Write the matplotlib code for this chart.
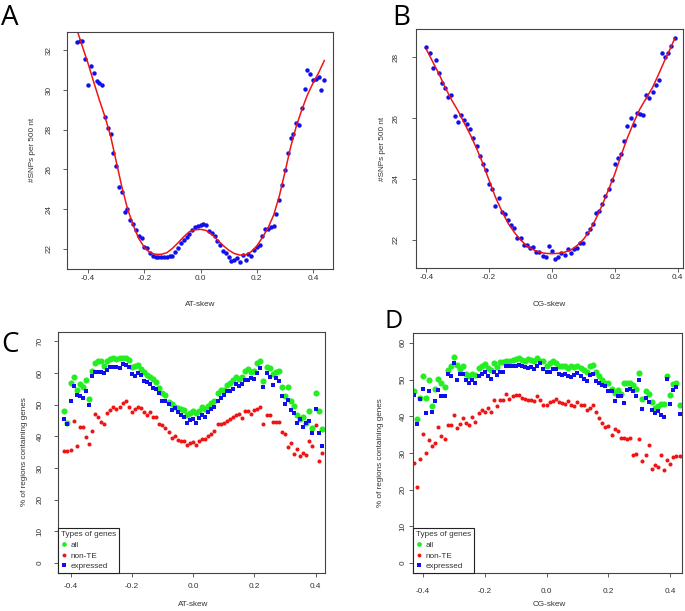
import numpy as np
import matplotlib
matplotlib.use('Agg')
import matplotlib.pyplot as plt
from matplotlib.lines import Line2D

plt.rcParams['font.family'] = ['Liberation Sans', 'DejaVu Sans']

# ---------------- data ----------------
# Panel A : SNP density vs AT-skew
a_x = np.round(np.arange(-0.44, 0.4451, 0.01), 2)
a_snps = [32.44, 32.49, 32.49, 31.55, 30.25, 31.2, 30.84, 30.47, 30.33, 30.27,
          28.65, 28.08, 27.78, 26.81, 26.17, 25.11, 24.84, 23.85, 24.02, 23.46,
          23.23, 22.94, 22.64, 22.52, 22.1, 22.02, 21.8, 21.63, 21.58, 21.58,
          21.58, 21.58, 21.58, 21.61, 21.63, 21.85, 22.02, 22.27, 22.44, 22.6,
          22.75, 22.95, 23.1, 23.15, 23.22, 23.25, 23.2, 22.9, 22.78, 22.64,
          22.4, 22.19, 21.9, 21.77, 21.6, 21.4, 21.43, 21.55, 21.35, 21.7,
          21.43, 21.73, 21.63, 21.93, 22.1, 22.19, 22.64, 22.98, 22.98, 23.08,
          23.15, 23.75, 24.45, 25.2, 25.97, 26.84, 27.58, 27.78, 28.32, 28.25,
          29.08, 30.06, 31.02, 30.79, 30.5, 30.57, 30.65, 29.98, 30.52]
a_fit_x = np.round(np.arange(-0.44, 0.4451, 0.02), 2)
a_fit = [33.05, 32.18, 31.33, 30.4, 29.5, 28.65, 27.68, 26.4, 25.12, 24.03,
         23.2, 22.52, 22.07, 21.8, 21.72, 21.72, 21.8, 22.02, 22.3, 22.6,
         22.86, 22.95, 22.98, 22.92, 22.72, 22.44, 22.17, 21.93, 21.76, 21.68,
         21.7, 21.85, 22.14, 22.57, 23.05, 23.7, 24.65, 25.85, 27.1, 28.15,
         29.0, 29.75, 30.35, 30.87, 31.48]

# Panel B : SNP density vs CG-skew
b_x = np.round(np.arange(-0.40, 0.3951, 0.01), 2)
b_snps = [28.34, 28.13, 27.63, 27.91, 27.48, 27.16, 26.98, 26.69, 26.77, 26.05,
          25.88, 26.1, 25.94, 25.79, 25.63, 25.34, 25.08, 24.74, 24.5, 24.28,
          23.82, 23.68, 23.13, 23.36, 22.92, 22.86, 22.64, 22.49, 22.38, 22.05,
          22.08, 21.82, 21.82, 21.75, 21.78, 21.61, 21.61, 21.49, 21.43, 21.8,
          21.64, 21.36, 21.44, 21.57, 21.51, 21.71, 21.56, 21.71, 21.72, 21.89,
          21.91, 22.24, 22.37, 22.53, 22.87, 22.95, 23.19, 23.43, 23.67, 23.98,
          24.5, 24.69, 24.83, 25.25, 25.75, 26.01, 25.76, 26.16, 26.14, 26.1,
          26.77, 26.67, 26.85, 27.09, 27.26, 28.13, 28.0, 28.12, 28.36, 28.61]
b_fit_x = [-0.40, -0.38, -0.36, -0.34, -0.32, -0.30, -0.28, -0.26, -0.24, -0.22,
           -0.20, -0.18, -0.16, -0.14, -0.12, -0.10, -0.08, -0.06, -0.04, -0.02,
           0.00, 0.02, 0.04, 0.06, 0.08, 0.10, 0.12, 0.14, 0.16, 0.18,
           0.20, 0.22, 0.24, 0.26, 0.28, 0.30, 0.32, 0.34, 0.36, 0.38, 0.39]
b_fit = [28.25, 27.85, 27.45, 27.0, 26.6, 26.25, 25.85, 25.45, 25.0, 24.5,
         23.95, 23.4, 22.95, 22.55, 22.25, 22.0, 21.8, 21.68, 21.6, 21.56,
         21.55, 21.56, 21.6, 21.67, 21.82, 22.02, 22.3, 22.7, 23.15, 23.65,
         24.17, 24.78, 25.35, 25.85, 26.3, 26.65, 27.0, 27.45, 27.92, 28.35, 28.6]

# Panel C : % of regions containing genes vs AT-skew
c_x = np.round(np.arange(-0.42, 0.4201, 0.01), 2)
c_all = [48.1, 44.2, 56.8, 58.7, 54.5, 56.6, 55.7, 57.9, 51.7, 60.8,
         63.1, 63.7, 63.9, 62.3, 63.7, 64.4, 64.6, 64.4, 64.6, 64.8,
         64.8, 64.2, 61.9, 62.3, 62.7, 61.2, 60.2, 59.4, 58.7, 58.1,
         57.3, 55.2, 53.6, 53.1, 51.0, 50.3, 49.4, 48.9, 48.6, 48.4,
         46.8, 47.3,
         47.9, 47.3, 48.1, 49.2, 48.6, 49.6, 50.5, 51.3, 53.8, 54.5,
         54.7, 56.3, 56.8, 57.9, 58.9, 58.1, 58.9, 60.8, 61.2, 60.3,
         60.5, 63.1, 63.9, 57.6, 61.9, 61.5, 59.8, 60.4, 60.8, 55.5,
         52.6, 55.5, 51.3, 49.6, 46.8, 45.4, 46.0, 44.3, 48.1, 42.5,
         53.6, 48.1, 42.3]
c_nonte = [35.4, 35.4, 35.6, 44.7, 37.0, 43.1, 43.0, 39.9, 37.5, 41.8,
           47.1, 46.0, 44.6, 44.0, 47.3, 48.4, 49.4, 48.7, 49.2, 50.5,
           51.1, 49.4, 47.7, 48.6, 49.4, 49.0, 47.7, 46.9, 47.8, 46.2,
           46.1, 43.9, 43.7, 42.5, 41.5, 39.4, 40.1, 38.9, 38.5, 38.5,
           37.3, 37.8,
           38.2, 37.3, 38.5, 39.1, 39.1, 40.1, 40.8, 41.8, 44.0, 44.0,
           44.1, 45.0, 45.6, 46.0, 46.7, 47.1, 45.9, 47.9, 47.9, 47.1,
           48.4, 48.8, 49.3, 43.9, 46.6, 46.9, 44.6, 44.6, 44.5, 41.5,
           40.9, 36.6, 37.8, 34.4, 36.0, 33.9, 34.7, 34.2, 38.6, 36.9,
           43.5, 32.3, 34.9]
c_expr = [45.5, 44.0, 51.1, 56.0, 53.2, 52.6, 52.2, 54.3, 49.8, 59.1,
          60.2, 60.4, 60.4, 60.0, 61.0, 61.9, 61.8, 61.8, 61.6, 62.8,
          62.6, 61.9, 59.8, 59.1, 60.0, 59.3, 57.6, 57.2, 56.5, 55.2,
          54.9, 53.6, 51.3, 51.1, 50.3, 48.4, 48.9, 47.6, 46.6, 46.2,
          44.1, 45.2,
          45.4, 44.3, 45.7, 46.9, 46.0, 47.6, 48.6, 49.4, 51.3, 52.2,
          53.0, 54.2, 54.2, 55.1, 56.5, 56.0, 56.5, 57.9, 57.9, 58.4,
          58.1, 60.0, 61.6, 55.5, 60.0, 58.9, 56.3, 58.5, 57.6, 52.8,
          50.3, 51.5, 48.4, 47.3, 44.3, 45.4, 42.9, 44.1, 45.0, 41.0,
          48.8, 41.0, 37.0]

# Panel D : % of regions containing genes vs CG-skew
d_x = np.round(np.arange(-0.43, 0.4301, 0.01), 2)
d_all = [46.8, 39.2, 45.0, 50.9, 45.0, 50.0, 42.9, 47.4, 50.1, 49.2,
         48.1, 52.7, 53.6, 56.1, 54.1, 52.9, 53.6, 51.6, 51.1, 51.6,
         51.3, 53.1, 53.8, 54.3, 53.1, 52.5, 54.5, 53.4, 54.9, 54.9,
         55.2, 55.2, 55.4, 55.6, 55.9, 55.4, 55.2, 55.6, 55.4, 55.2,
         55.9, 55.2, 55.0,
         53.8, 54.5, 55.0, 54.5, 53.6, 53.8, 53.6, 53.1, 53.8, 53.4,
         53.8, 53.1, 52.7, 52.0, 53.6, 54.1, 52.0, 50.9, 50.0, 49.1,
         49.2, 47.4, 46.3, 47.2, 46.1, 49.1, 49.2, 49.1, 48.6, 47.4,
         51.8, 44.7, 46.8, 46.1, 43.8, 42.2, 42.9, 43.4, 43.4, 50.9,
         45.9, 48.9, 49.2, 43.1]
d_nonte = [27.2, 20.7, 28.3, 35.1, 30.0, 33.4, 31.8, 32.7, 37.2, 34.7,
           33.8, 37.5, 37.7, 40.3, 36.7, 37.8, 39.6, 38.3, 37.5, 39.8,
           38.5, 40.9, 41.8, 41.2, 42.3, 41.2, 44.3, 42.9, 44.5, 44.5,
           46.0, 44.7, 45.4, 45.9, 45.7, 45.0, 44.7, 44.5, 44.3, 44.1,
           45.4, 44.5, 43.1,
           43.0, 43.8, 44.1, 44.7, 43.8, 43.6, 43.4, 44.1, 43.1, 42.7,
           44.0, 43.1, 43.0, 41.8, 42.2, 43.1, 41.2, 39.6, 38.2, 37.1,
           37.4, 35.0, 36.4, 36.1, 34.0, 34.2, 33.7, 34.0, 29.5, 29.8,
           33.8, 27.7, 29.4, 32.2, 25.7, 26.8, 26.3, 29.5, 25.3, 28.2,
           27.1, 29.0, 29.1, 29.3]
d_expr = [45.9, 38.0, 44.7, 47.4, 40.9, 46.8, 41.1, 44.1, 47.1, 45.6,
          45.4, 51.5, 51.1, 54.5, 49.8, 51.5, 51.6, 50.0, 49.1, 50.0,
          49.2, 50.9, 51.4, 52.0, 50.9, 50.1, 52.2, 51.3, 52.0, 52.0,
          53.6, 53.6, 53.8, 53.8, 54.0, 53.8, 53.4, 53.1, 53.4, 52.9,
          53.6, 54.5, 52.9,
          52.0, 52.0, 52.9, 52.9, 51.6, 51.3, 51.6, 51.1, 50.7, 51.3,
          51.8, 50.9, 50.1, 49.5, 51.3, 51.4, 49.6, 49.2, 48.6, 48.3,
          46.8, 46.8, 44.1, 45.6, 45.4, 43.6, 47.1, 47.4, 46.8, 45.6,
          50.0, 42.0, 45.0, 43.8, 41.8, 40.9, 41.3, 40.4, 39.8, 50.1,
          43.4, 47.2, 48.0, 40.7]

skew_ticks = [-0.4, -0.2, 0.0, 0.2, 0.4]
skew_labels = ['-0.4', '-0.2', '0.0', '0.2', '0.4']
a_yticks = [22, 24, 26, 28, 30, 32]
b_yticks = [22, 24, 26, 28]
c_yticks = [0, 10, 20, 30, 40, 50, 60, 70]
d_yticks = [0, 10, 20, 30, 40, 50, 60]
gene_types = ['all', 'non-TE', 'expressed']

# ---------------- style ----------------
W, H = 685, 611
BLUE = '#1010EE'
RED = '#EE1515'
GREEN = '#22EE22'
TXT = '#333333'
FS = 5.9

fig = plt.figure(figsize=(W / 100, H / 100), dpi=100)


def box(l, t, r, b):
    return [l / W, 1 - b / H, (r - l) / W, (b - t) / H]


def style(ax, xlim, ylim, yticks, xpad, ypad):
    ax.set_xlim(*xlim)
    ax.set_ylim(*ylim)
    ax.set_xticks(skew_ticks)
    ax.set_xticklabels(skew_labels)
    ax.set_yticks(yticks)
    ax.set_yticklabels([str(v) for v in yticks], rotation=90, va='center')
    for s in ax.spines.values():
        s.set_color('#444444')
        s.set_linewidth(0.8)
    ax.tick_params(axis='both', length=3, width=0.6, color='#444444',
                   labelsize=FS, labelcolor=TXT)
    ax.tick_params(axis='x', pad=xpad)
    ax.tick_params(axis='y', pad=ypad)


def ftext(x, y, s, **kw):
    fig.text(x / W, 1 - y / H, s, color=TXT, **kw)


# Panel A
axA = fig.add_axes(box(67, 32, 333, 269))
axA.plot(a_x, a_snps, 'o', color=BLUE, ms=3.2, mew=0)
axA.plot(a_fit_x, a_fit, '-', color=RED, lw=1.1)
style(axA, (-0.475, 0.471), (20.98, 32.92), a_yticks, 1.0, 7.0)

# Panel B
axB = fig.add_axes(box(416, 29, 683, 268))
axB.plot(b_x, b_snps, 'o', color=BLUE, ms=3.2, mew=0)
axB.plot(b_fit_x, b_fit, '-', color=RED, lw=1.1)
style(axB, (-0.433, 0.417), (21.08, 28.92), b_yticks, 1.0, 8.5)

# Panel C
axC = fig.add_axes(box(58, 332, 325, 573))
axC.plot(c_x, c_all, 'o', color=GREEN, ms=4.4, mew=0)
axC.plot(c_x, c_nonte, 'o', color=RED, ms=2.9, mew=0)
axC.plot(c_x, c_expr, 's', color=BLUE, ms=3.0, mew=0)
style(axC, (-0.441, 0.431), (-3.17, 72.97), c_yticks, 4.5, 7.5)

# Panel D
axD = fig.add_axes(box(413, 333, 682, 573))
axD.plot(d_x, d_all, 'o', color=GREEN, ms=4.4, mew=0)
axD.plot(d_x, d_nonte, 'o', color=RED, ms=2.9, mew=0)
axD.plot(d_x, d_expr, 's', color=BLUE, ms=3.0, mew=0)
style(axD, (-0.432, 0.438), (-2.73, 62.7), d_yticks, 8.0, 1.5)

for ax in (axC, axD):
    handles = [Line2D([], [], ls='none', marker='o', color=GREEN, ms=3.4, mew=0),
               Line2D([], [], ls='none', marker='o', color=RED, ms=2.8, mew=0),
               Line2D([], [], ls='none', marker='s', color=BLUE, ms=3.0, mew=0)]
    leg = ax.legend(handles, gene_types, title='Types of genes', loc='lower left',
                    bbox_to_anchor=(0, 0), borderaxespad=0, fontsize=FS,
                    title_fontsize=FS, fancybox=False, framealpha=1,
                    edgecolor='#222222', handlelength=0.7, handletextpad=0.5,
                    labelspacing=0.35, borderpad=0.35, alignment='left')
    leg.get_frame().set_linewidth(0.8)
    for t in leg.get_texts():
        t.set_color(TXT)
    leg.get_title().set_color(TXT)

# axis titles
ftext(200, 304, 'AT-skew', fontsize=FS, ha='center', va='center')
ftext(549, 304, 'CG-skew', fontsize=FS, ha='center', va='center')
ftext(193, 605, 'AT-skew', fontsize=FS, ha='center', va='center')
ftext(549, 605, 'CG-skew', fontsize=FS, ha='center', va='center')
ftext(33, 150, '#SNPs per 500 nt', fontsize=FS, ha='center', va='center', rotation=90)
ftext(383, 149, '#SNPs per 500 nt', fontsize=FS, ha='center', va='center', rotation=90)
ftext(25, 452, '% of regions containing genes', fontsize=FS, ha='center', va='center', rotation=90)
ftext(380, 453, '% of regions containing genes', fontsize=FS, ha='center', va='center', rotation=90)

# panel letters
for s, x, y, fs in (('A', 1, 4, 20), ('B', 392, 4, 20), ('C', 1, 331, 20), ('D', 384, 309, 18)):
    fig.text(x / W, 1 - y / H, s, fontsize=fs, color='black', ha='left', va='top',
             family=['Open Sans', 'DejaVu Sans'])

fig.savefig('out.png', dpi=100)
